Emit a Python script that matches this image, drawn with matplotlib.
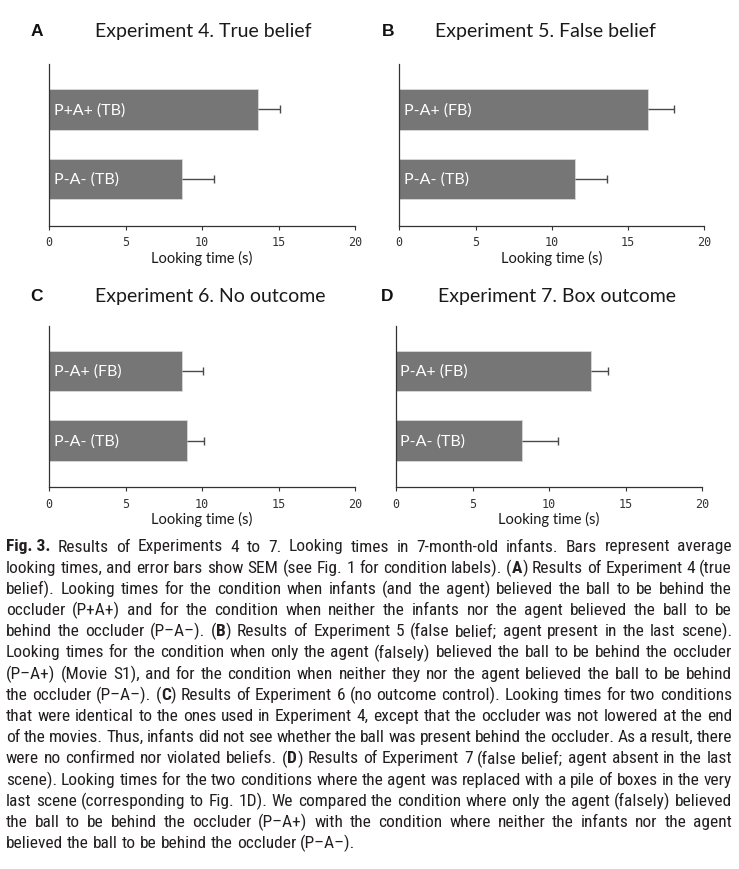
import re
import matplotlib
matplotlib.use("Agg")
import matplotlib.pyplot as plt
from matplotlib import font_manager

# ---------------- data ----------------
labels_A = ["P+A+ (TB)", "P-A- (TB)"]
means_A = [13.65, 8.7]
sem_A = [1.45, 2.1]

labels_B = ["P-A+ (FB)", "P-A- (TB)"]
means_B = [16.3, 11.5]
sem_B = [1.7, 2.15]

labels_C = ["P-A+ (FB)", "P-A- (TB)"]
means_C = [8.65, 9.0]
sem_C = [1.4, 1.15]

labels_D = ["P-A+ (FB)", "P-A- (TB)"]
means_D = [12.7, 8.25]
sem_D = [1.15, 2.3]

panel_letters = ["A", "B", "C", "D"]
panel_titles = ["Experiment 4. True belief", "Experiment 5. False belief",
                "Experiment 6. No outcome", "Experiment 7. Box outcome"]
x_ticks = [0, 5, 10, 15, 20]
x_label = "Looking time (s)"

caption_lines = [
    "**Fig. 3.** Results of Experiments 4 to 7. Looking times in 7-month-old infants. Bars represent average",
    "looking times, and error bars show SEM (see Fig. 1 for condition labels). (**A**) Results of Experiment 4 (true",
    "belief). Looking times for the condition when infants (and the agent) believed the ball to be behind the",
    "occluder (P+A+) and for the condition when neither the infants nor the agent believed the ball to be",
    "behind the occluder (P–A–). (**B**) Results of Experiment 5 (false belief; agent present in the last scene).",
    "Looking times for the condition when only the agent (falsely) believed the ball to be behind the occluder",
    "(P–A+) (Movie S1), and for the condition when neither they nor the agent believed the ball to be behind",
    "the occluder (P–A–). (**C**) Results of Experiment 6 (no outcome control). Looking times for two conditions",
    "that were identical to the ones used in Experiment 4, except that the occluder was not lowered at the end",
    "of the movies. Thus, infants did not see whether the ball was present behind the occluder. As a result, there",
    "were no confirmed nor violated beliefs. (**D**) Results of Experiment 7 (false belief; agent absent in the last",
    "scene). Looking times for the two conditions where the agent was replaced with a pile of boxes in the very",
    "last scene (corresponding to Fig. 1D). We compared the condition where only the agent (falsely) believed",
    "the ball to be behind the occluder (P–A+) with the condition where neither the infants nor the agent",
    "believed the ball to be behind the occluder (P–A–).",
]

# ---------------- fonts ----------------
def pick(*names):
    for n in names:
        try:
            font_manager.findfont(font_manager.FontProperties(family=n), fallback_to_default=False)
            return n
        except Exception:
            continue
    return "DejaVu Sans"

title_font = pick("Lato", "Open Sans", "DejaVu Sans")
cap_font = pick("Liberation Sans Narrow", "Roboto Condensed", "Roboto", "Lato")

W, H = 739, 870
fig = plt.figure(figsize=(W / 100, H / 100), dpi=100)
fig.patch.set_facecolor("white")

def ax_rect(left, right, top, bottom):
    return [left / W, 1 - bottom / H, (right - left) / W, (bottom - top) / H]

panels = [
    (ax_rect(49.3, 355.0, 65.0, 226.7), labels_A, means_A, sem_A, 36.5, 95.0, 31.0),
    (ax_rect(399.3, 704.3, 65.0, 226.7), labels_B, means_B, sem_B, 388.5, 435.0, 31.0),
    (ax_rect(49.3, 355.0, 326.7, 488.3), labels_C, means_C, sem_C, 36.5, 95.0, 296.7),
    (ax_rect(396.0, 702.3, 326.7, 488.3), labels_D, means_D, sem_D, 387.5, 438.3, 296.7),
]

bar_color = "#767676"
for i, (rect, labs, means, sems, lx, tx, ty) in enumerate(panels):
    ax = fig.add_axes(rect)
    ypos = list(range(len(labs)))
    ax.barh(ypos, means, height=0.585, color=bar_color, edgecolor="#d9d9d9",
            linewidth=0.6, zorder=2)
    eb = ax.errorbar(means, ypos, xerr=[[0] * len(sems), sems], fmt="none",
                     ecolor="#4a4a4a", elinewidth=1.0, capsize=3.2, capthick=1.0, zorder=3)
    caps = eb.lines[1]
    if caps:
        caps[0].set_visible(False)
    for y, lab in zip(ypos, labs):
        ax.text(0.28, y, lab, color="white", va="center", ha="left",
                fontsize=11.5, family=title_font, zorder=4)
    ax.set_xlim(0, 20)
    ax.set_ylim(1.67, -0.65)
    ax.set_xticks(x_ticks)
    ax.set_xticklabels([str(t) for t in x_ticks], family="DejaVu Sans Mono",
                       fontsize=8.5, color="#333333")
    ax.set_yticks([])
    ax.tick_params(axis="x", direction="out", length=3, width=0.8, color="#333333", pad=4)
    for s in ["top", "right"]:
        ax.spines[s].set_visible(False)
    for s in ["left", "bottom"]:
        ax.spines[s].set_color("#333333")
        ax.spines[s].set_linewidth(0.9)
    ax.set_xlabel(x_label, family=title_font, fontsize=10.5, color="#1a1a1a", labelpad=1)
    ax.set_facecolor("none")
    fig.text(lx / W, 1 - ty / H, panel_letters[i], ha="center", va="center",
             fontsize=12.5, fontweight="bold", family="Liberation Sans", color="#111111")
    fig.text(tx / W, 1 - ty / H, panel_titles[i], ha="left", va="center",
             fontsize=14, family=title_font, color="#1a1a1a")

# ---------------- justified caption ----------------
renderer = fig.canvas.get_renderer()
cap_left, cap_right = 6.0, 732.0
cap_y0, cap_dy = 547.0, 21.2
cap_color = "#231f20"

def parse(line):
    parts = line.split("**")
    words = [[]]
    for k, part in enumerate(parts):
        bold = (k % 2 == 1)
        if bold:
            words[-1].append((part, True))
            continue
        chunks = part.split(" ")
        for j, ch in enumerate(chunks):
            if j > 0:
                words.append([])
            if ch:
                words[-1].append((ch, False))
    return [w for w in words if w]

def measure(text, bold, size):
    t = fig.text(0, 0, text, fontsize=size, family=cap_font,
                 fontweight="bold" if bold else "normal")
    wpx = t.get_window_extent(renderer).width
    t.remove()
    return wpx

parsed = [parse(l) for l in caption_lines]
avail = cap_right - cap_left

size = 14.0
for _ in range(40):
    space = measure("a b", False, size) - measure("ab", False, size)
    ok = True
    for words in parsed[:-1]:
        tot = sum(measure(p, b, size) for w in words for p, b in w)
        if tot + 0.85 * space * (len(words) - 1) > avail:
            ok = False
            break
    if ok:
        break
    size -= 0.1

space = measure("a b", False, size) - measure("ab", False, size)
for li, words in enumerate(parsed):
    y = cap_y0 + li * cap_dy
    widths = [[measure(p, b, size) for p, b in w] for w in words]
    tot = sum(sum(ws) for ws in widths)
    if li < len(parsed) - 1 and len(words) > 1:
        gap = (avail - tot) / (len(words) - 1)
    else:
        gap = space
    x = cap_left
    for w, ws in zip(words, widths):
        for (p, b), pw in zip(w, ws):
            fig.text(x / W, 1 - y / H, p, fontsize=size, family=cap_font,
                     fontweight="bold" if b else "normal", color=cap_color,
                     ha="left", va="center")
            x += pw
        x += gap

fig.savefig("out.png", dpi=100, facecolor="white")
